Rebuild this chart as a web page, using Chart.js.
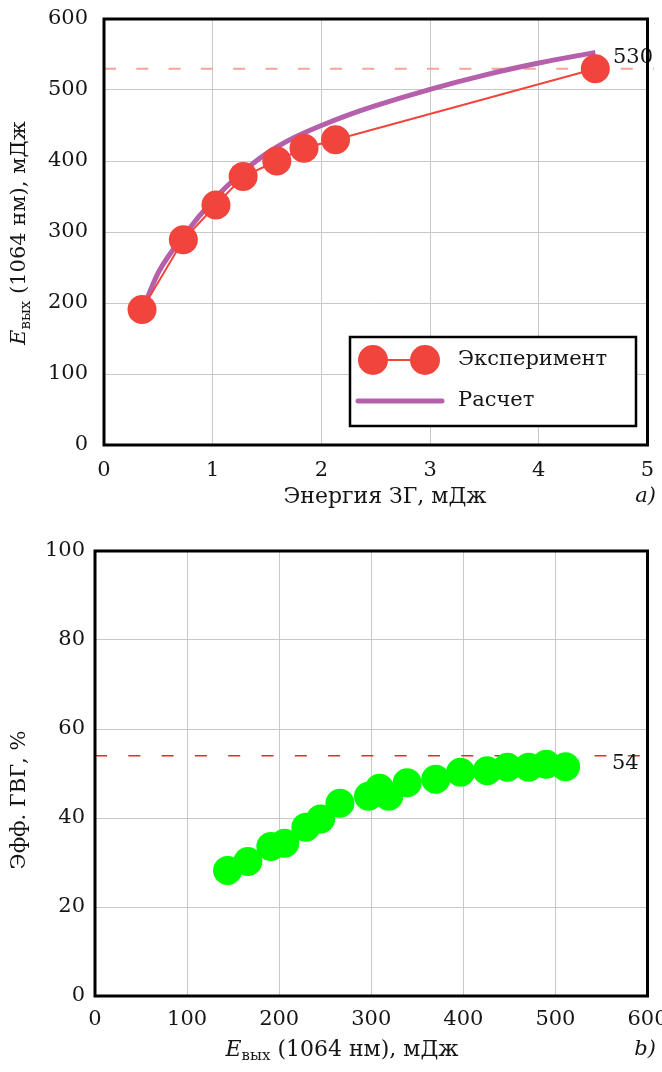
<!DOCTYPE html>
<html>
<head>
<meta charset="utf-8">
<script src="https://cdn.jsdelivr.net/npm/chart.js@4.4.1/dist/chart.umd.min.js"></script>
<style>
  html, body { margin: 0; padding: 0; background: #fff; }
  #wrap { position: relative; width: 662px; height: 1072px; }
  canvas { position: absolute; left: 0; }
  #topChart { top: 0; }
  #bottomChart { top: 525px; }
</style>
</head>
<body>
<div id="wrap">
  <canvas id="topChart" width="662" height="525"></canvas>
  <canvas id="bottomChart" width="662" height="547"></canvas>
</div>
<script>
// a) output energy vs SH energy
const shEnergy = [0.35, 0.73, 1.03, 1.28, 1.59, 1.84, 2.13, 4.52];
const expOutput = [191, 289, 338, 378, 400, 418, 430, 530];
const calcEnergy = [0.4, 0.5, 0.75, 1, 1.25, 1.5, 1.75, 2, 2.25, 2.5, 3, 3.5, 4, 4.52];
const calcOutput = [208, 243, 298, 344, 381, 411, 433, 450, 465, 478, 501, 521, 538, 553];
const topRefLine = 530;

// b) efficiency vs output energy
const outEnergy = [144, 166, 191, 206, 229, 245, 266, 297, 309, 319, 339, 370, 397, 426, 448, 471, 490, 511];
const efficiency = [28.2, 30.2, 33.6, 34.3, 37.9, 39.8, 43.3, 44.9, 46.7, 44.9, 47.9, 48.7, 50.3, 50.6, 51.4, 51.4, 52.1, 51.5];
const bottomRefLine = 54;

const SERIF = "'DejaVu Serif', serif";
const TEXT = '#151515';
const GRID = '#c8c8c8';

function toPoints(xs, ys) {
  return xs.map((x, i) => ({ x: x, y: ys[i] }));
}

function richText(ctx, parts, cx, cy, angle) {
  ctx.save();
  ctx.translate(cx, cy);
  ctx.rotate(angle || 0);
  ctx.textBaseline = 'middle';
  ctx.textAlign = 'left';
  ctx.fillStyle = TEXT;
  let total = 0;
  parts.forEach(p => {
    ctx.font = p.font;
    p.w = ctx.measureText(p.text).width;
    total += p.w;
  });
  let x = -total / 2;
  parts.forEach(p => {
    ctx.font = p.font;
    ctx.fillText(p.text, x, p.dy || 0);
    x += p.w;
  });
  ctx.restore();
}

function pinScales(leftWidth, bottomHeight) {
  return {
    x: function (scale) {
      scale.height = bottomHeight;
      scale.paddingLeft = 0;
      scale.paddingRight = 0;
    },
    y: function (scale) {
      scale.width = leftWidth;
      scale.paddingTop = 0;
      scale.paddingBottom = 0;
    }
  };
}

const frame = {
  id: 'frame',
  afterDraw(chart) {
    const a = chart.chartArea;
    const ctx = chart.ctx;
    ctx.save();
    ctx.strokeStyle = '#000';
    ctx.lineWidth = 3;
    ctx.strokeRect(a.left, a.top, a.right - a.left, a.bottom - a.top);
    ctx.restore();
  }
};

function refLine(value, color, width, dash, endX, label, labelX, labelDy) {
  return {
    id: 'refLine',
    beforeDatasetsDraw(chart) {
      const ctx = chart.ctx;
      const y = chart.scales.y.getPixelForValue(value);
      ctx.save();
      ctx.strokeStyle = color;
      ctx.lineWidth = width;
      ctx.setLineDash(dash);
      ctx.beginPath();
      ctx.moveTo(chart.chartArea.left, y);
      ctx.lineTo(endX, y);
      ctx.stroke();
      ctx.restore();
    },
    afterDatasetsDraw(chart) {
      const ctx = chart.ctx;
      const y = chart.scales.y.getPixelForValue(value);
      ctx.save();
      ctx.fillStyle = TEXT;
      ctx.font = '21px ' + SERIF;
      ctx.textAlign = 'left';
      ctx.textBaseline = 'middle';
      ctx.fillText(label, labelX, y + labelDy);
      ctx.restore();
    }
  };
}

const topTexts = {
  id: 'topTexts',
  afterDraw(chart) {
    const ctx = chart.ctx;
    richText(ctx, [
      { text: 'E', font: 'italic 21px ' + SERIF },
      { text: 'вых', font: '15px ' + SERIF, dy: 6 },
      { text: ' (1064 нм), мДж', font: '21px ' + SERIF }
    ], 20, 233, -Math.PI / 2);
    richText(ctx, [{ text: 'Энергия ЗГ, мДж', font: '22px ' + SERIF }], 385, 497);
    ctx.save();
    ctx.fillStyle = TEXT;
    ctx.font = 'italic 21px ' + SERIF;
    ctx.textAlign = 'right';
    ctx.textBaseline = 'middle';
    ctx.fillText('a)', 656, 497);
    ctx.restore();

    // legend
    ctx.save();
    ctx.fillStyle = '#fff';
    ctx.fillRect(350, 337, 286, 89);
    ctx.strokeStyle = '#000';
    ctx.lineWidth = 2.5;
    ctx.strokeRect(350, 337, 286, 89);
    ctx.strokeStyle = '#f0463e';
    ctx.lineWidth = 2;
    ctx.beginPath();
    ctx.moveTo(373, 360);
    ctx.lineTo(425, 360);
    ctx.stroke();
    ctx.fillStyle = '#f0443c';
    [373, 425].forEach(cx => {
      ctx.beginPath();
      ctx.arc(cx, 360, 15, 0, Math.PI * 2);
      ctx.fill();
    });
    ctx.strokeStyle = '#b65fab';
    ctx.lineWidth = 5;
    ctx.lineCap = 'round';
    ctx.beginPath();
    ctx.moveTo(358, 401);
    ctx.lineTo(442, 401);
    ctx.stroke();
    ctx.fillStyle = TEXT;
    ctx.font = '21px ' + SERIF;
    ctx.textAlign = 'left';
    ctx.textBaseline = 'middle';
    ctx.fillText('Эксперимент', 458, 360);
    ctx.fillText('Расчет', 458, 401);
    ctx.restore();
  }
};

const bottomTexts = {
  id: 'bottomTexts',
  afterDraw(chart) {
    const ctx = chart.ctx;
    richText(ctx, [{ text: 'Эфф. ГВГ, %', font: '21px ' + SERIF }], 20, 275, -Math.PI / 2);
    richText(ctx, [
      { text: 'E', font: 'italic 22px ' + SERIF },
      { text: 'вых', font: '15px ' + SERIF, dy: 6 },
      { text: ' (1064 нм), мДж', font: '22px ' + SERIF }
    ], 342, 525);
    ctx.save();
    ctx.fillStyle = TEXT;
    ctx.font = 'italic 21px ' + SERIF;
    ctx.textAlign = 'right';
    ctx.textBaseline = 'middle';
    ctx.fillText('b)', 656, 525);
    ctx.restore();
  }
};

const tickFont = { family: SERIF, size: 21 };

const topFit = pinScales(104, 80);
new Chart(document.getElementById('topChart'), {
  type: 'scatter',
  data: {
    datasets: [
      {
        label: 'Эксперимент',
        data: toPoints(shEnergy, expOutput),
        showLine: true,
        borderColor: '#f0463e',
        borderWidth: 2,
        pointRadius: 14.5,
        pointBorderWidth: 0,
        pointBackgroundColor: '#f0443c'
      },
      {
        label: 'Расчет',
        data: toPoints(calcEnergy, calcOutput),
        showLine: true,
        borderColor: '#b65fab',
        borderWidth: 5,
        cubicInterpolationMode: 'monotone',
        pointRadius: 0
      }
    ]
  },
  options: {
    responsive: false,
    animation: false,
    events: [],
    layout: { padding: { left: 0, right: 8, top: 19, bottom: 0 } },
    plugins: { legend: { display: false }, tooltip: { enabled: false } },
    scales: {
      x: {
        type: 'linear', min: 0, max: 5,
        ticks: { stepSize: 1, padding: 13, color: TEXT, font: tickFont },
        grid: { color: GRID, lineWidth: 1, drawTicks: false },
        border: { display: false },
        afterFit: topFit.x
      },
      y: {
        min: 0, max: 600,
        ticks: { stepSize: 100, padding: 16, color: TEXT, font: tickFont },
        grid: { color: GRID, lineWidth: 1, drawTicks: false },
        border: { display: false },
        afterFit: topFit.y
      }
    }
  },
  plugins: [refLine(topRefLine, '#f5a39c', 2, [12, 20.3], 654, '530', 613, -11), frame, topTexts]
});

const bottomFit = pinScales(95, 76);
new Chart(document.getElementById('bottomChart'), {
  type: 'scatter',
  data: {
    datasets: [
      {
        label: 'Эфф. ГВГ',
        data: toPoints(outEnergy, efficiency),
        showLine: false,
        pointRadius: 14.5,
        pointBorderWidth: 0,
        pointBackgroundColor: '#00ff00'
      }
    ]
  },
  options: {
    responsive: false,
    animation: false,
    events: [],
    layout: { padding: { left: 0, right: 7, top: 26, bottom: 0 } },
    plugins: { legend: { display: false }, tooltip: { enabled: false } },
    scales: {
      x: {
        type: 'linear', min: 0, max: 600,
        ticks: { stepSize: 100, padding: 11, color: TEXT, font: tickFont },
        grid: { color: GRID, lineWidth: 1, drawTicks: false },
        border: { display: false },
        afterFit: bottomFit.x
      },
      y: {
        min: 0, max: 100,
        ticks: { stepSize: 20, padding: 10, color: TEXT, font: tickFont },
        grid: { color: GRID, lineWidth: 1, drawTicks: false },
        border: { display: false },
        afterFit: bottomFit.y
      }
    }
  },
  plugins: [refLine(bottomRefLine, '#e52a2a', 1.5, [12, 21.3], 640, '54', 612, 8), frame, bottomTexts]
});
</script>
</body>
</html>
